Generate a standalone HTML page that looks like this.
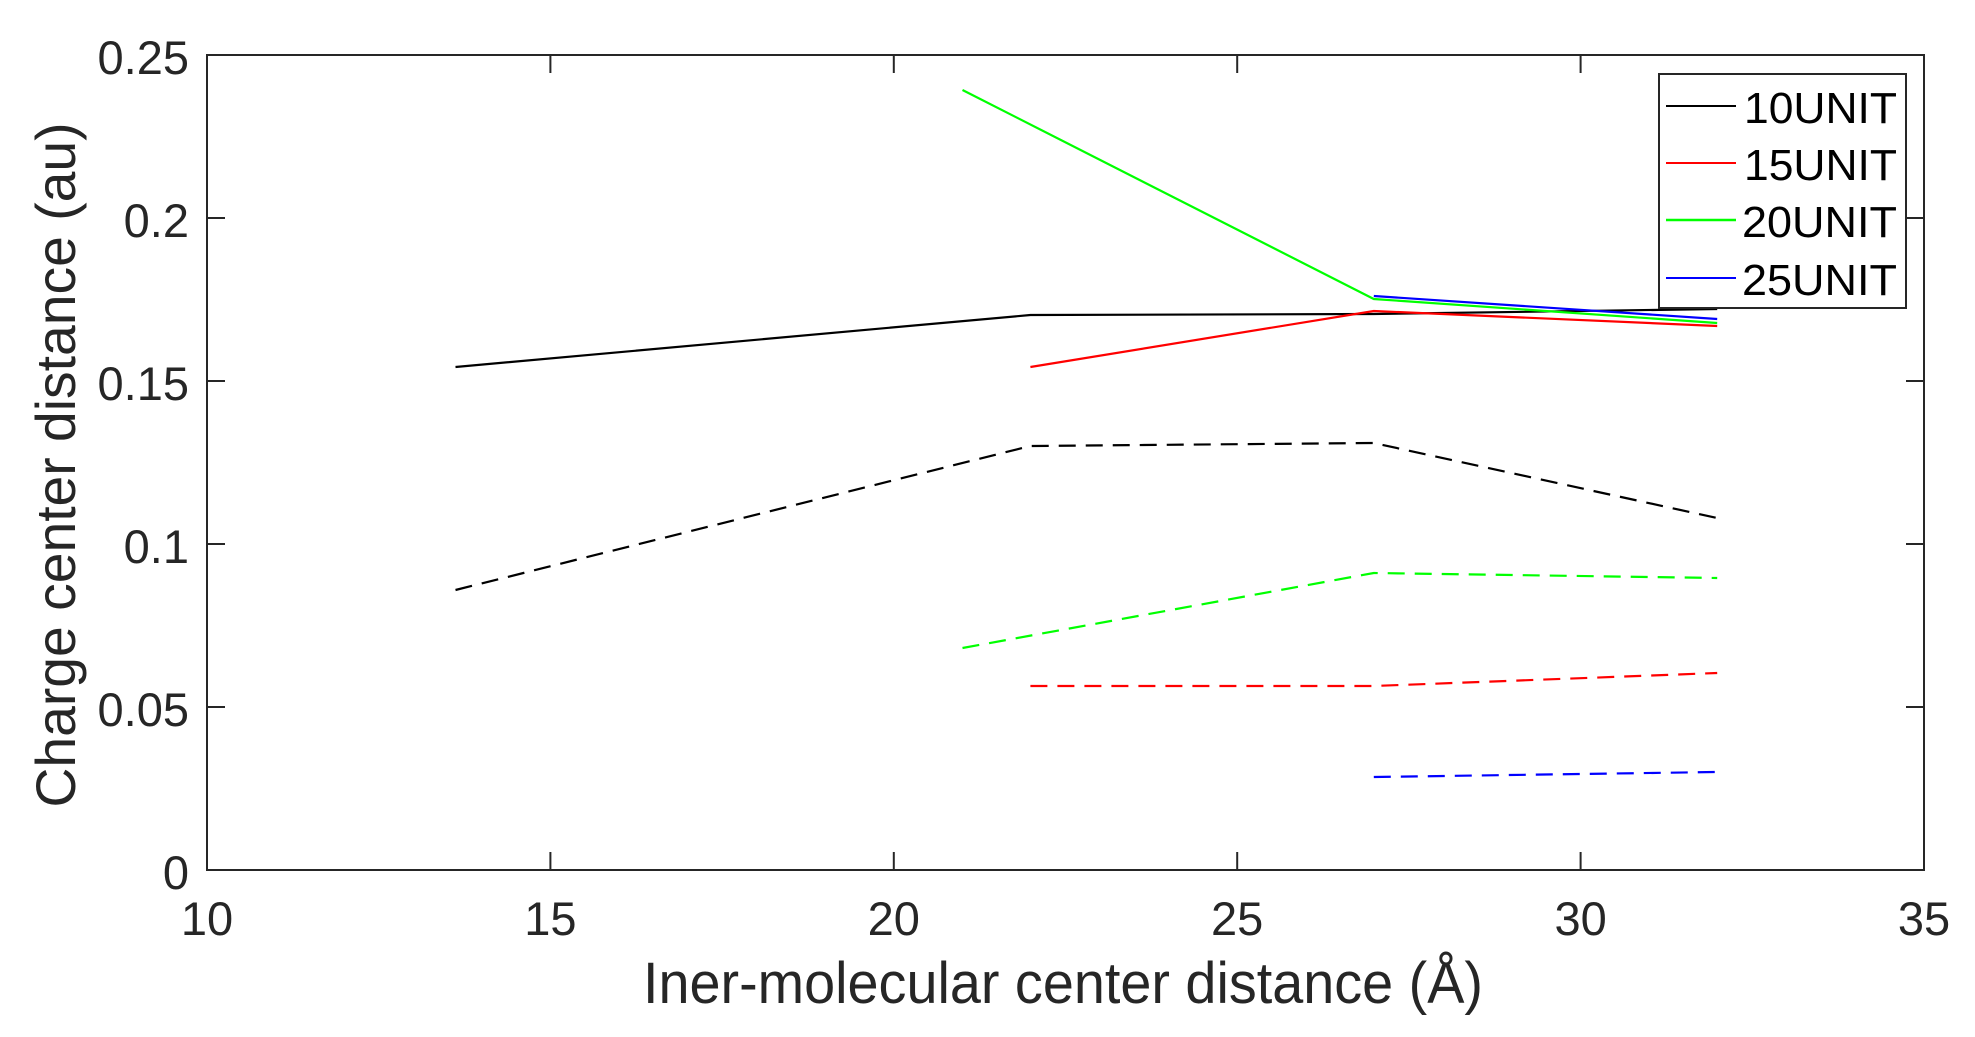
<!DOCTYPE html>
<html><head><meta charset="utf-8"><style>
html,body{margin:0;padding:0;background:#fff;}
svg{display:block;}
text{font-family:"Liberation Sans",Arial,sans-serif;fill:#262626;}
</style></head><body>
<svg width="1975" height="1037" viewBox="0 0 1975 1037" xmlns="http://www.w3.org/2000/svg">
<rect width="1975" height="1037" fill="#fff"/>
<!-- axes box -->
<rect x="207" y="55" width="1717" height="815" fill="none" stroke="#262626" stroke-width="2"/>
<g stroke="#262626" stroke-width="2">
<!-- x ticks bottom/top -->
<line x1="550.4" y1="870" x2="550.4" y2="852"/><line x1="550.4" y1="55" x2="550.4" y2="73"/>
<line x1="893.8" y1="870" x2="893.8" y2="852"/><line x1="893.8" y1="55" x2="893.8" y2="73"/>
<line x1="1237.2" y1="870" x2="1237.2" y2="852"/><line x1="1237.2" y1="55" x2="1237.2" y2="73"/>
<line x1="1580.6" y1="870" x2="1580.6" y2="852"/><line x1="1580.6" y1="55" x2="1580.6" y2="73"/>
<!-- y ticks -->
<line x1="207" y1="218" x2="225" y2="218"/><line x1="1924" y1="218" x2="1906" y2="218"/>
<line x1="207" y1="381" x2="225" y2="381"/><line x1="1924" y1="381" x2="1906" y2="381"/>
<line x1="207" y1="544" x2="225" y2="544"/><line x1="1924" y1="544" x2="1906" y2="544"/>
<line x1="207" y1="707" x2="225" y2="707"/><line x1="1924" y1="707" x2="1906" y2="707"/>
</g>
<!-- y tick labels -->
<g font-size="47" text-anchor="end">
<text x="189" y="74">0.25</text>
<text x="189" y="237">0.2</text>
<text x="189" y="400">0.15</text>
<text x="189" y="563">0.1</text>
<text x="189" y="726">0.05</text>
<text x="189" y="889">0</text>
</g>
<!-- x tick labels -->
<g font-size="47" text-anchor="middle">
<text x="207" y="935">10</text>
<text x="550.4" y="935">15</text>
<text x="893.8" y="935">20</text>
<text x="1237.2" y="935">25</text>
<text x="1580.6" y="935">30</text>
<text x="1924" y="935">35</text>
</g>
<text x="1063" y="1003" font-size="58" text-anchor="middle" textLength="840" lengthAdjust="spacingAndGlyphs">Iner-molecular center distance (Å)</text>
<text transform="translate(75,465) rotate(-90)" font-size="56" text-anchor="middle" textLength="685" lengthAdjust="spacingAndGlyphs">Charge center distance (au)</text>
<!-- series: x->207+(x-10)*68.68, y->870-v*3260 -->
<g fill="none" stroke-width="2.2">
<polyline stroke="#000" points="455.5,367 1030.4,315 1373.8,314 1717.2,309"/>
<polyline stroke="#ff0000" points="1030.4,367 1373.8,311 1717.2,326"/>
<polyline stroke="#00ff00" points="962.5,90 1373.8,299 1717.2,323"/>
<polyline stroke="#0000ff" points="1373.8,296 1717.2,319"/>
<g stroke-dasharray="17,10">
<polyline stroke="#000" points="455.5,590 1030.4,446 1373.8,443 1717.2,518"/>
<polyline stroke="#00ff00" points="962.5,648 1373.8,573 1717.2,578"/>
<polyline stroke="#ff0000" points="1030.4,686 1373.8,686 1717.2,673"/>
<polyline stroke="#0000ff" points="1373.8,777 1717.2,772"/>
</g>
</g>
<!-- legend -->
<rect x="1659" y="74" width="247" height="234" fill="#fff" stroke="#262626" stroke-width="2"/>
<line x1="1666" y1="106" x2="1736" y2="106" stroke="#000" stroke-width="2"/>
<line x1="1666" y1="163" x2="1736" y2="163" stroke="#ff0000" stroke-width="2"/>
<line x1="1666" y1="220" x2="1736" y2="220" stroke="#00ff00" stroke-width="2.5"/>
<line x1="1666" y1="278" x2="1736" y2="278" stroke="#0000ff" stroke-width="2"/>
<g font-size="44" fill="#000">
<text x="1744" y="123" textLength="153" lengthAdjust="spacingAndGlyphs" style="fill:#000">10UNIT</text>
<text x="1744" y="180" textLength="153" lengthAdjust="spacingAndGlyphs" style="fill:#000">15UNIT</text>
<text x="1742" y="237" textLength="155" lengthAdjust="spacingAndGlyphs" style="fill:#000">20UNIT</text>
<text x="1742" y="295" textLength="155" lengthAdjust="spacingAndGlyphs" style="fill:#000">25UNIT</text>
</g>
</svg>
</body></html>
